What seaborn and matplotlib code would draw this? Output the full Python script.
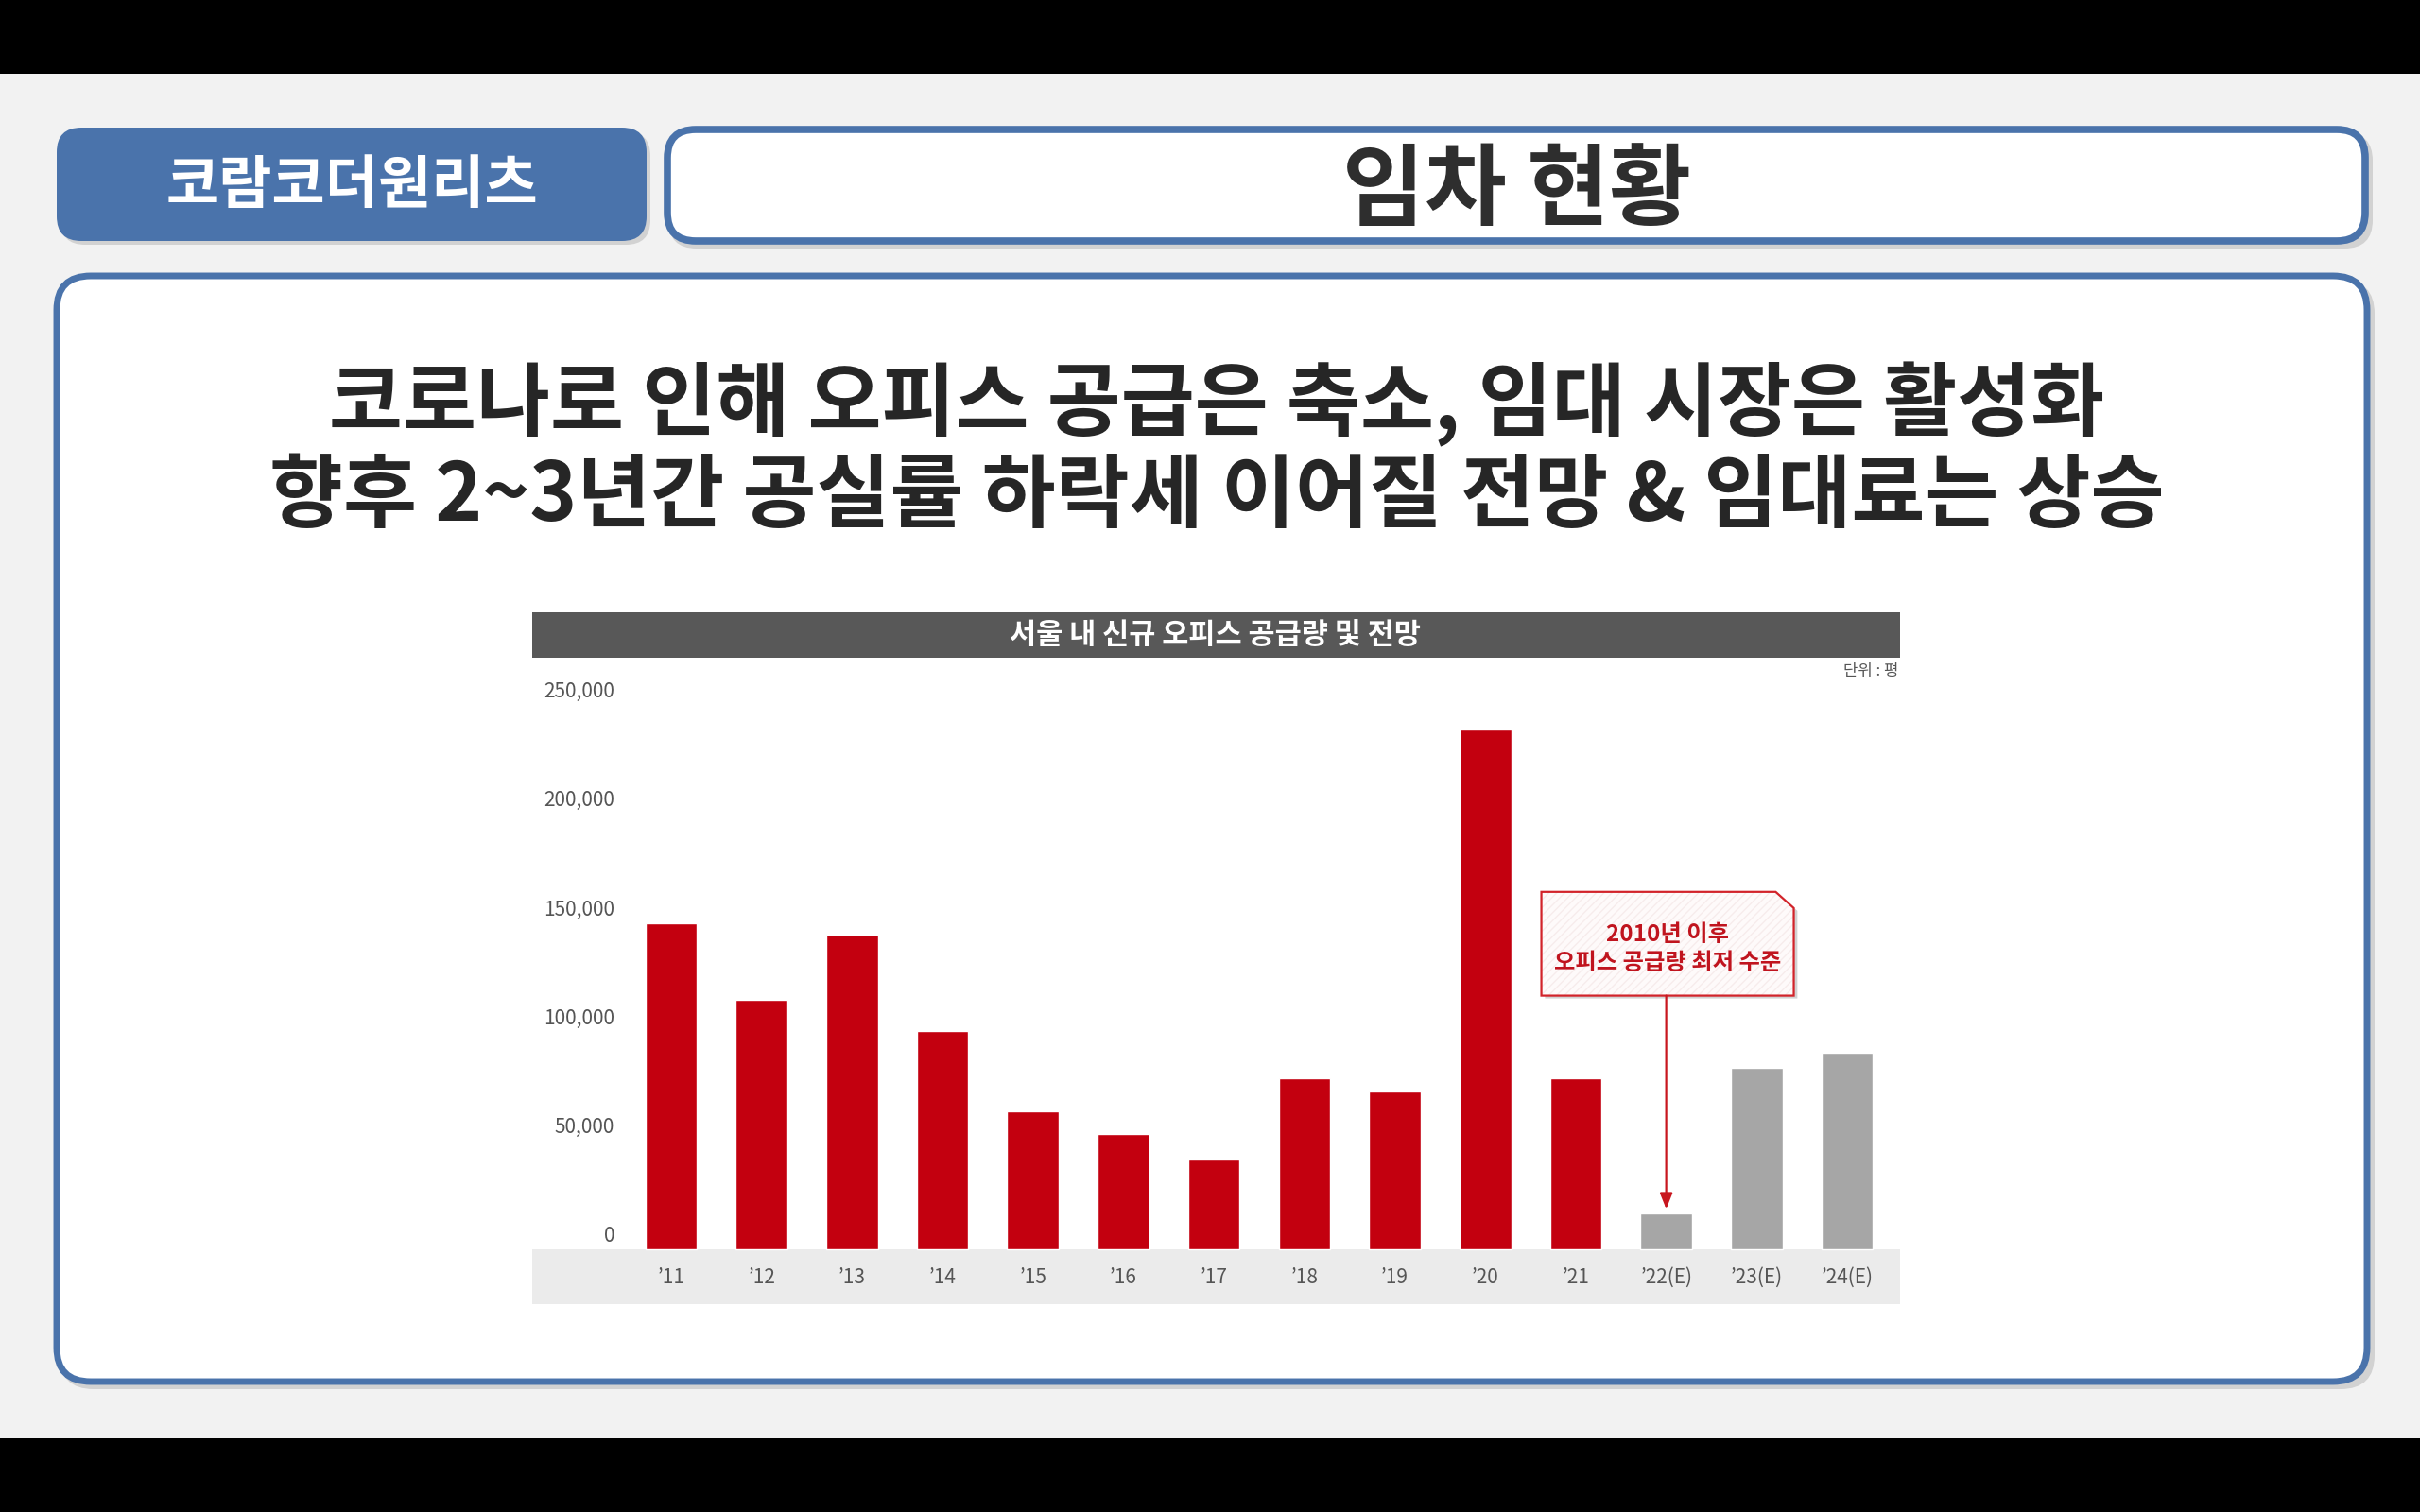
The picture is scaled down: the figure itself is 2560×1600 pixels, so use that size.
import numpy as np
import pandas as pd
import matplotlib
matplotlib.use("Agg")
import matplotlib.pyplot as plt
import seaborn as sns
from matplotlib.patches import FancyBboxPatch, Rectangle, Polygon
from matplotlib.transforms import ScaledTranslation, IdentityTransform

# ---------------- data ----------------
years = ["\u201911", "\u201912", "\u201913", "\u201914", "\u201915", "\u201916", "\u201917",
         "\u201918", "\u201919", "\u201920", "\u201921", "\u201922(E)", "\u201923(E)", "\u201924(E)"]
supply = [149400, 114400, 144600, 100200, 63500, 52700, 41300,
          78500, 72600, 238700, 78500, 16500, 83300, 90100]
kinds = ["실적"] * 11 + ["전망"] * 3
yticks = [0, 50000, 100000, 150000, 200000, 250000]
ytick_labels = ["0", "50,000", "100,000", "150,000", "200,000", "250,000"]

tag_text = "코람코더원리츠"
page_title = "임차 현황"
headline1 = "코로나로 인해 오피스 공급은 축소, 임대 시장은 활성화"
headline2 = "향후 2~3년간 공실률 하락세 이어질 전망 & 임대료는 상승"
chart_title = "서울 내 신규 오피스 공급량 및 전망"
unit_text = "단위 : 평"
callout1 = "2010년 이후"
callout2 = "오피스 공급량 최저 수준"

df = pd.DataFrame({"year": years, "supply": supply, "kind": kinds})

# ---------------- style ----------------
sns.set_style("white")
plt.rcParams["font.family"] = ["Noto Sans CJK KR", "DejaVu Sans"]

W, H = 2560, 1600
fig = plt.figure(figsize=(25.6, 16), dpi=100)
fig.patch.set_facecolor("#f2f2f2")

BLUE = "#4a73ab"
RED = "#c3000f"
GRAY = "#a6a6a6"
ID = IdentityTransform()


def fx(x):
    return x / W


def fy(y):
    return 1 - y / H


def pbox(x0, y0, x1, y1, r, **kw):
    return FancyBboxPatch((x0, H - y1), x1 - x0, y1 - y0,
                          boxstyle=f"round,pad=0,rounding_size={r}",
                          transform=ID, **kw)


# black letterbox bars
fig.add_artist(Rectangle((0, H - 78), W, 78, transform=ID, fc="black", ec="none", zorder=-5))
fig.add_artist(Rectangle((0, 0), W, 78, transform=ID, fc="black", ec="none", zorder=-5))

# tag box
fig.add_artist(pbox(64, 139, 688, 259, 26, fc="#bdbdbd", ec="none", alpha=0.6, zorder=-4))
fig.add_artist(pbox(60, 135, 684, 255, 26, fc=BLUE, ec="none", zorder=-3))
fig.text(fx(372), fy(197), tag_text, ha="center", va="center", fontsize=44,
         weight="black", color="white")

# title box
fig.add_artist(pbox(707, 140, 2510, 263, 30, fc="#bdbdbd", ec="none", alpha=0.6, zorder=-4))
fig.add_artist(pbox(706, 137, 2502, 255, 30, fc="white", ec=BLUE, lw=5.5, zorder=-3))
fig.text(fx(1605), fy(203), page_title, ha="center", va="center", fontsize=68,
         weight="black", color="#2e2e2e")

# main box
fig.add_artist(pbox(63, 296, 2512, 1470, 36, fc="#bdbdbd", ec="none", alpha=0.6, zorder=-4))
fig.add_artist(pbox(60, 292, 2504, 1462, 36, fc="white", ec=BLUE, lw=5.0, zorder=-3))

# headlines
fig.text(fx(1287), fy(428), headline1, ha="center", va="center", fontsize=61,
         weight="black", color="#262626")
fig.text(fx(1287), fy(526), headline2, ha="center", va="center", fontsize=61,
         weight="black", color="#262626")

# chart title bar
fig.add_artist(Rectangle((563, H - 696), 2010 - 563, 48, transform=ID,
                         fc="#585858", ec="none", zorder=2))
fig.text(fx(1286), fy(672), chart_title, ha="center", va="center", fontsize=22,
         weight="bold", color="white", zorder=3)
fig.text(fx(2008), fy(711), unit_text, ha="right", va="center", fontsize=12,
         color="#555555")

# ---------------- chart ----------------
ax_l, ax_r, ax_t, ax_b = 563, 2010, 700, 1380
ax = fig.add_axes([fx(ax_l), fy(ax_b), (ax_r - ax_l) / W, (ax_b - ax_t) / H])
ax.set_zorder(5)
ax.patch.set_alpha(0)

sns.barplot(data=df, x="year", y="supply", hue="kind",
            palette={"실적": RED, "전망": GRAY}, dodge=False, width=0.57,
            saturation=1, legend=False, ax=ax, zorder=2)

base_px = 1322
px_per_50k = 115.3
ax.set_ylim(-(ax_b - base_px) / px_per_50k * 50000, (base_px - ax_t) / px_per_50k * 50000)
ax.set_xlim(-(710 - ax_l) / 95.7, 13 + (ax_r - 1954) / 95.7)
ax.axhspan(ax.get_ylim()[0], 0, color="#ebebeb", zorder=0.5, lw=0)

ax.set_xlabel("")
ax.set_ylabel("")
sns.despine(ax=ax, left=True, bottom=True)

ax.set_yticks(yticks, ytick_labels)
ax.tick_params(axis="y", length=0, pad=0, labelsize=15, labelcolor="#555555")
for lab in ax.get_yticklabels():
    lab.set_transform(lab.get_transform() + ScaledTranslation(0.87, 0.16, fig.dpi_scale_trans))

ax.set_xticks(range(len(years)), years)
ax.tick_params(axis="x", length=0, pad=-28, labelsize=15, labelcolor="#555555")
ax.grid(False)

# callout for the lowest bar
i_min = int(np.argmin(supply))
cx = i_min + 0.015
bl, br = cx - 1.395, cx + 1.395
bt, bb = 164000, 116400
cut_x, cut_y = 0.2, 7400
pts = [(bl, bb), (bl, bt), (br - cut_x, bt), (br, bt - cut_y), (br, bb)]
shadow = Polygon([(x + 0.04, y - 1300) for x, y in pts], closed=True,
                 fc="#d2d2d2", ec="none", zorder=6)
ax.add_patch(shadow)
ax.add_patch(Polygon(pts, closed=True, fc="#fefafa", ec="#f7ecec", lw=0,
                     hatch="////", zorder=7))
ax.add_patch(Polygon(pts, closed=True, fc="none", ec="#d2232a", lw=1.6, zorder=8))
ax.text(cx, 144500, callout1, ha="center", va="center", fontsize=17.5,
        color="#c0141e", weight="bold", zorder=9)
ax.text(cx, 131200, callout2, ha="center", va="center", fontsize=17.5,
        color="#c0141e", weight="bold", zorder=9)
ax.annotate("", xy=(i_min, supply[i_min] + 2000), xytext=(i_min, bb),
            arrowprops=dict(arrowstyle="-|>,head_length=1.0,head_width=0.4",
                            color="#c8161e", lw=1.6, shrinkA=0, shrinkB=0),
            zorder=9)

fig.savefig("out.png", dpi=100, facecolor=fig.get_facecolor())
